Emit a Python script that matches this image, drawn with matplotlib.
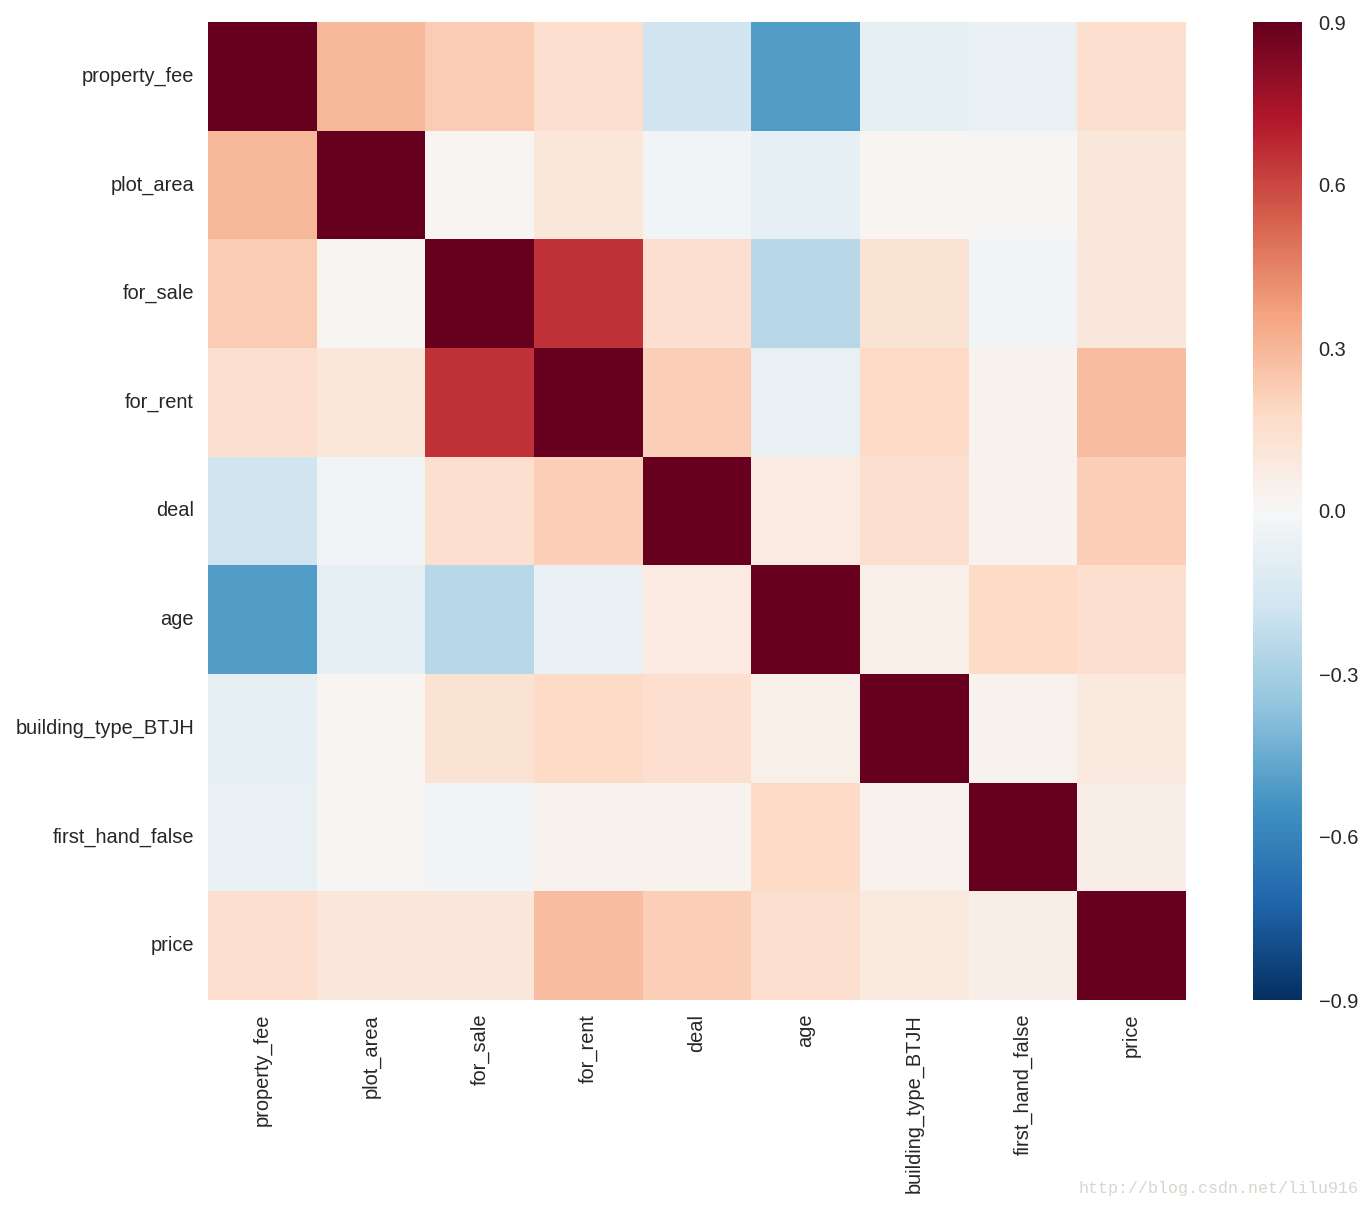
import numpy as np
import matplotlib
matplotlib.use("Agg")
import matplotlib.pyplot as plt
import seaborn as sns
import pandas as pd

labels = ["property_fee", "plot_area", "for_sale", "for_rent", "deal", "age",
          "building_type_BTJH", "first_hand_false", "price"]

row_property_fee = [1.00, 0.30, 0.23, 0.15, -0.18, -0.50, -0.08, -0.07, 0.15]
row_plot_area    = [0.30, 1.00, 0.02, 0.11, -0.03, -0.08, 0.02, 0.01, 0.10]
row_for_sale     = [0.23, 0.02, 1.00, 0.65, 0.15, -0.25, 0.13, -0.03, 0.10]
row_for_rent     = [0.15, 0.11, 0.65, 1.00, 0.22, -0.07, 0.18, 0.03, 0.28]
row_deal         = [-0.18, -0.03, 0.15, 0.22, 1.00, 0.08, 0.15, 0.03, 0.22]
row_age          = [-0.50, -0.08, -0.25, -0.07, 0.08, 1.00, 0.05, 0.18, 0.15]
row_building     = [-0.08, 0.02, 0.13, 0.18, 0.15, 0.05, 1.00, 0.03, 0.09]
row_first_hand   = [-0.07, 0.01, -0.03, 0.03, 0.03, 0.18, 0.03, 1.00, 0.06]
row_price        = [0.15, 0.10, 0.10, 0.28, 0.22, 0.15, 0.09, 0.06, 1.00]

corr = pd.DataFrame([row_property_fee, row_plot_area, row_for_sale, row_for_rent,
                     row_deal, row_age, row_building, row_first_hand, row_price],
                    index=labels, columns=labels)

plt.rcParams['font.family'] = ['Liberation Sans', 'DejaVu Sans']
fig = plt.figure(figsize=(13.69, 12.08), dpi=100)
ax = fig.add_axes([208/1369, 1-1000/1208, 978/1369, 978/1208])
cax = fig.add_axes([1253/1369, 1-1000/1208, 49/1369, 978/1208])

sns.heatmap(corr, vmin=-0.9, vmax=0.9, cmap="RdBu_r", ax=ax, cbar_ax=cax,
            xticklabels=labels, yticklabels=labels)
ax.tick_params(axis='both', length=0, labelsize=14.4, labelcolor='#262626', pad=10)
ax.set_xticklabels(labels, rotation=90)
ax.set_yticklabels(labels, rotation=0)
cax.set_yticks([-0.9, -0.6, -0.3, 0.0, 0.3, 0.6, 0.9])
cax.set_yticklabels(["\u22120.9", "\u22120.6", "\u22120.3", "0.0", "0.3", "0.6", "0.9"])
cax.tick_params(length=0, labelsize=14.4, labelcolor='#262626', pad=12)
for s in cax.spines.values():
    s.set_visible(False)

fig.text(1358/1369, 1-1188/1208, "http://blog.csdn.net/lilu916", ha='right', va='center',
         fontsize=12, color='#d6d6ce', family=['Liberation Mono', 'DejaVu Sans Mono'])

fig.savefig("out.png", dpi=100)
